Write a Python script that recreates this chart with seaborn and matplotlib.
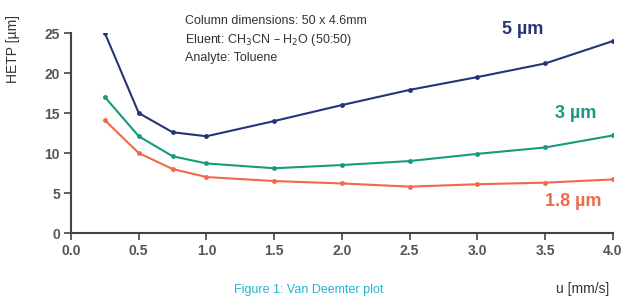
import matplotlib
matplotlib.use("Agg")
import matplotlib.pyplot as plt
import seaborn as sns
import pandas as pd

# flow rate u [mm/s]
flow = [0.25, 0.5, 0.75, 1.0, 1.5, 2.0, 2.5, 3.0, 3.5, 4.0]

# HETP values per particle size
hetp_5um = [25.0, 15.0, 12.6, 12.1, 14.0, 16.0, 17.9, 19.5, 21.2, 24.0]
hetp_3um = [17.0, 12.1, 9.6, 8.7, 8.1, 8.5, 9.0, 9.9, 10.7, 12.2]
hetp_18um = [14.1, 10.0, 8.0, 7.0, 6.5, 6.2, 5.8, 6.1, 6.3, 6.7]

series = ["5 µm", "3 µm", "1.8 µm"]
colors = {"5 µm": "#26357a", "3 µm": "#179a7e", "1.8 µm": "#f0694a"}

xticks = [0.0, 0.5, 1.0, 1.5, 2.0, 2.5, 3.0, 3.5, 4.0]
yticks = [0, 5, 10, 15, 20, 25]

df = pd.DataFrame({
    "u": flow * 3,
    "hetp": hetp_5um + hetp_3um + hetp_18um,
    "size": [s for s in series for _ in flow],
})

sns.set_style("white")
plt.rcParams["font.family"] = ["Liberation Sans Narrow", "Liberation Sans", "DejaVu Sans"]

fig = plt.figure(figsize=(6.25, 2.98), dpi=100)
ax = fig.add_axes([0.1136, 0.218, 0.867, 0.671])

sns.lineplot(data=df, x="u", y="hetp", hue="size", palette=colors,
             marker="o", markersize=3.5, markeredgewidth=0, linewidth=1.5,
             legend=False, ax=ax)

ax.set_xlim(0, 4.0)
ax.set_ylim(0, 25)
ax.set_xticks(xticks)
ax.set_xticklabels([f"{t:.1f}" for t in xticks])
ax.set_yticks(yticks)
for lab in ax.get_xticklabels() + ax.get_yticklabels():
    lab.set_fontweight("bold")
    lab.set_color("#555555")
    lab.set_fontsize(10)
ax.tick_params(axis="both", direction="out", length=5, width=1.2, color="#444444",
               left=True, bottom=True, pad=3)
sns.despine(ax=ax)
for side in ["left", "bottom"]:
    ax.spines[side].set_color("#444444")
    ax.spines[side].set_linewidth(1.5)

ax.set_xlabel("u [mm/s]", fontsize=10, color="#333333")
ax.xaxis.set_label_coords(0.945, -0.245)
ax.set_ylabel("HETP [µm]", fontsize=10, color="#333333")
ax.yaxis.set_label_coords(-0.095, 0.92)

ax.text(0.21, 1.09, "Column dimensions: 50 x 4.6mm\n"
        "Eluent: CH$_3$CN – H$_2$O (50:50)\nAnalyte: Toluene",
        transform=ax.transAxes, fontsize=9, color="#333333", va="top",
        linespacing=1.45)

ax.text(3.18, 25.4, "5 µm", color=colors["5 µm"], fontsize=13, fontweight="bold", va="center")
ax.text(3.57, 14.9, "3 µm", color=colors["3 µm"], fontsize=13, fontweight="bold", va="center")
ax.text(3.5, 4.0, "1.8 µm", color=colors["1.8 µm"], fontsize=13, fontweight="bold", va="center")

fig.text(0.375, 0.008, "Figure 1: Van Deemter plot", color="#22b5d3", fontsize=9, va="bottom")

fig.savefig("out.png", dpi=100)
